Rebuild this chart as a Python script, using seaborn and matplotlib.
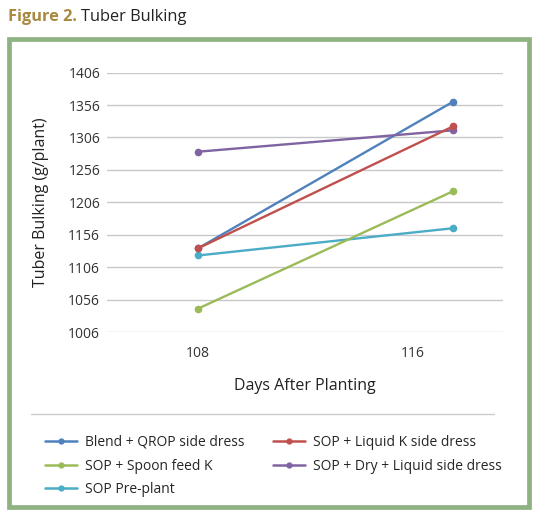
import numpy as np
import pandas as pd
import matplotlib
matplotlib.use("Agg")
import matplotlib.pyplot as plt
import matplotlib.transforms as mtransforms
from matplotlib.patches import Rectangle
from matplotlib.lines import Line2D
import seaborn as sns

# datos
days = [108, 116]
blend_qrop = [1135, 1361]
sop_liquid_k = [1135, 1323]
sop_spoon = [1042, 1223]
sop_dry_liquid = [1284, 1317]
sop_preplant = [1124, 1166]

series = {
    "Blend + QROP side dress": blend_qrop,
    "SOP + Liquid K side dress": sop_liquid_k,
    "SOP + Spoon feed K": sop_spoon,
    "SOP + Dry + Liquid side dress": sop_dry_liquid,
    "SOP Pre-plant": sop_preplant,
}
colors = {
    "Blend + QROP side dress": "#4F81BD",
    "SOP + Liquid K side dress": "#C0504D",
    "SOP + Spoon feed K": "#9BBB59",
    "SOP + Dry + Liquid side dress": "#8064A2",
    "SOP Pre-plant": "#4BACC6",
}
yticks = [1006, 1056, 1106, 1156, 1206, 1256, 1306, 1356, 1406]

rows = []
for name, vals in series.items():
    for d, v in zip(days, vals):
        rows.append({"day": d, "value": v, "treatment": name})
df = pd.DataFrame(rows)

sns.set_theme(style="white")
plt.rcParams["font.family"] = ["Open Sans", "DejaVu Sans"]

W, H = 536, 514
fig = plt.figure(figsize=(W / 100, H / 100), dpi=100)
ax = fig.add_axes([107 / W, 1 - 332 / H, 396 / W, (332 - 72.6) / H])

# orden de dibujo: cian, verde, azul, morado, rojo
draw_order = ["SOP Pre-plant", "SOP + Spoon feed K", "Blend + QROP side dress",
              "SOP + Dry + Liquid side dress", "SOP + Liquid K side dress"]
for name in draw_order:
    sns.lineplot(data=df[df.treatment == name], x="day", y="value", ax=ax,
                 color=colors[name], marker="o", markersize=5.5, markeredgewidth=0,
                 linewidth=1.7, label=name, clip_on=False)

ax.set_xlim(105.145, 117.57)
ax.set_ylim(1006, 1406)
ax.set_yticks(yticks)
ax.set_xticks(days)
ax.grid(axis="y", color="#c8c8c8", linewidth=1)
ax.set_axisbelow(True)
for s in ax.spines.values():
    s.set_visible(False)
ax.tick_params(axis="both", length=0, labelsize=10, colors="#333333")
ax.tick_params(axis="y", pad=5)
ax.tick_params(axis="x", pad=10)
# la etiqueta "116" aparece desplazada a la izquierda en el original
lab = ax.get_xticklabels()[1]
lab.set_transform(lab.get_transform() + mtransforms.ScaledTranslation(-40 / 100, 0, fig.dpi_scale_trans))

ax.set_xlabel("Days After Planting", fontsize=11.5, color="#222222", labelpad=12)
ax.set_ylabel("Tuber Bulking (g/plant)", fontsize=11.5, color="#222222", labelpad=14)

handles, labels = ax.get_legend_handles_labels()
ax.get_legend().remove()
leg_order = ["Blend + QROP side dress", "SOP + Spoon feed K", "SOP Pre-plant",
             "SOP + Liquid K side dress", "SOP + Dry + Liquid side dress"]
leg_handles = [Line2D([], [], color=colors[n], marker="o", markersize=3.5, linewidth=1.8)
               for n in leg_order]
fig.legend(leg_handles, leg_order, ncol=2, loc="upper left",
           bbox_to_anchor=(45 / W, 1 - 435 / H), frameon=False, fontsize=10,
           handlelength=2.3, handletextpad=0.6, columnspacing=2.0, labelspacing=0.62,
           borderaxespad=0, borderpad=0)

# línea separadora y marco verde
fig.add_artist(Line2D([31 / W, 494 / W], [1 - 414 / H, 1 - 414 / H],
                      transform=fig.transFigure, color="#cccccc", linewidth=1))
fig.add_artist(Rectangle((9 / W, 1 - 507 / H), 520 / W, 468 / H, transform=fig.transFigure,
                         fill=False, edgecolor="#8fb283", linewidth=3.4))

# título
t1 = fig.text(8 / W, 1 - 17 / H, "Figure 2.", fontsize=11.8, fontweight="bold",
              color="#a8893f", va="center", ha="left")
ax.annotate("Tuber Bulking", xy=(1, 0.5), xycoords=t1, xytext=(3, 0),
            textcoords="offset points", fontsize=11.8, color="#222222",
            va="center", ha="left", annotation_clip=False)

fig.savefig("out.png", dpi=100)
